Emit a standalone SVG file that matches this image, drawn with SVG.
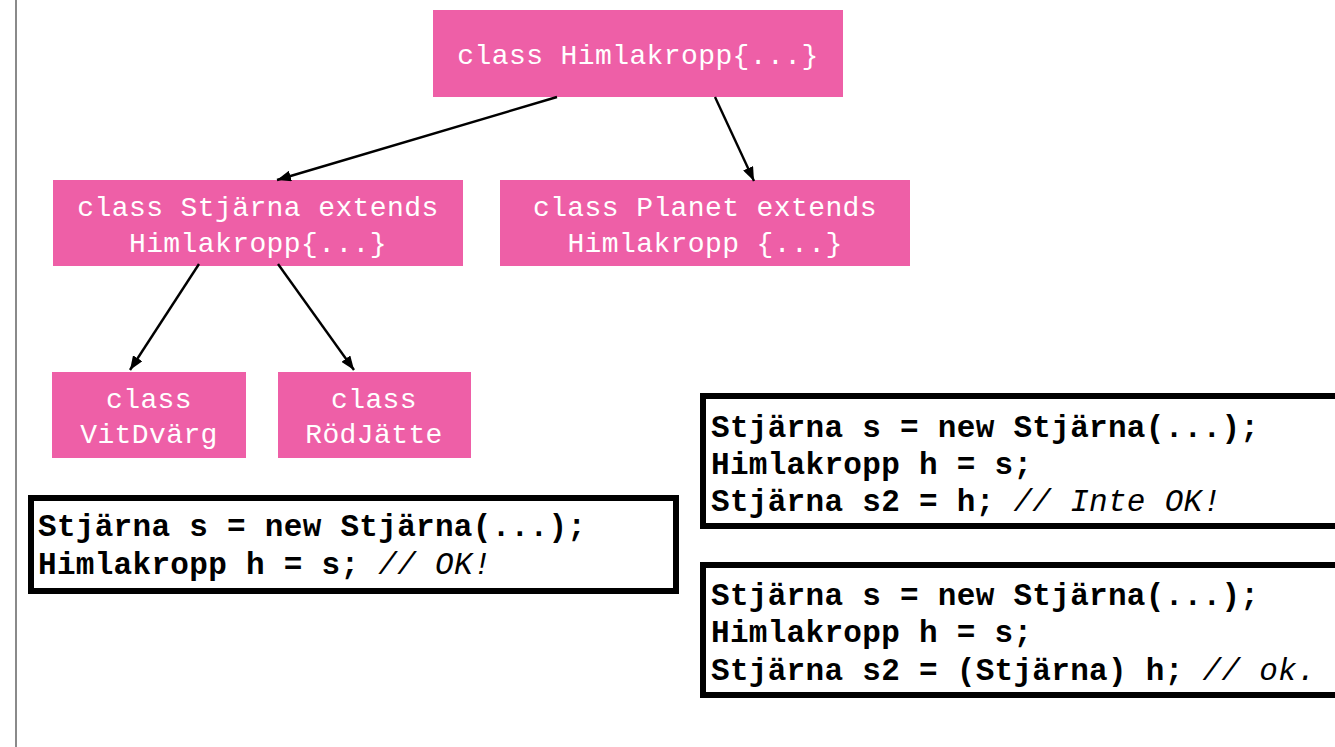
<svg xmlns="http://www.w3.org/2000/svg" width="1335" height="747" viewBox="0 0 1335 747">
  <style>
    .cls rect { fill: #EE5FA7; }
    .cls text { font-family: "Liberation Mono", "Courier New", monospace; font-size: 28px; letter-spacing: 0.4px; fill: #ffffff; text-anchor: middle; }
    .code rect { fill: #ffffff; stroke: #000000; stroke-width: 6; }
    .code text { font-family: "Liberation Mono", "Courier New", monospace; font-size: 31px; letter-spacing: 0.3px; font-weight: bold; fill: #000000; }
    .code tspan.c { font-weight: normal; font-style: italic; }
    .edges line { stroke: #000000; stroke-width: 2.4; marker-end: url(#arrow); }
  </style>
  <defs>
    <marker id="arrow" viewBox="0 0 14 11" refX="14" refY="5.5" markerWidth="14" markerHeight="11" markerUnits="userSpaceOnUse" orient="auto">
      <path d="M0,0 L14,5.5 L0,11 z" fill="#000000"/>
    </marker>
  </defs>

  <rect x="0" y="0" width="1335" height="747" fill="#ffffff"/>
  <!-- page edge rule -->
  <rect x="15" y="0" width="2" height="747" fill="#8a8a8a"/>

  <g id="node-himlakropp" class="cls">
    <rect x="433" y="10" width="410" height="87"/>
    <text x="638" y="64">class Himlakropp{...}</text>
  </g>
  <g id="node-stjarna" class="cls">
    <rect x="53" y="180" width="410" height="86"/>
    <text x="258" y="216">class Stjärna extends</text>
    <text x="258" y="252">Himlakropp{...}</text>
  </g>
  <g id="node-planet" class="cls">
    <rect x="500" y="180" width="410" height="86"/>
    <text x="705" y="216">class Planet extends</text>
    <text x="705" y="252">Himlakropp {...}</text>
  </g>
  <g id="node-vitdvarg" class="cls">
    <rect x="52" y="372" width="194" height="86"/>
    <text x="149" y="408">class</text>
    <text x="149" y="443">VitDvärg</text>
  </g>
  <g id="node-rodjatte" class="cls">
    <rect x="278" y="372" width="193" height="86"/>
    <text x="374" y="408">class</text>
    <text x="374" y="443">RödJätte</text>
  </g>

  <g id="connectors" class="edges">
    <line x1="557" y1="97" x2="277" y2="180"/>
    <line x1="715" y1="97" x2="754" y2="181"/>
    <line x1="199" y1="264" x2="130" y2="370"/>
    <line x1="278" y1="264" x2="354" y2="370"/>
  </g>

  <g id="code-upcast" class="code">
    <rect x="31" y="498" width="645" height="93"/>
    <text x="38" y="536">Stjärna s = new Stjärna(...);</text>
    <text x="38" y="574">Himlakropp h = s; <tspan class="c">// OK!</tspan></text>
  </g>
  <g id="code-downcast-error" class="code">
    <rect x="703" y="396" width="660" height="130"/>
    <text x="711" y="437">Stjärna s = new Stjärna(...);</text>
    <text x="711" y="474">Himlakropp h = s;</text>
    <text x="711" y="511">Stjärna s2 = h; <tspan class="c">// Inte OK!</tspan></text>
  </g>
  <g id="code-downcast-cast" class="code">
    <rect x="703" y="565" width="660" height="130"/>
    <text x="711" y="605">Stjärna s = new Stjärna(...);</text>
    <text x="711" y="642">Himlakropp h = s;</text>
    <text x="711" y="680">Stjärna s2 = (Stjärna) h; <tspan class="c">// ok.</tspan></text>
  </g>
</svg>
